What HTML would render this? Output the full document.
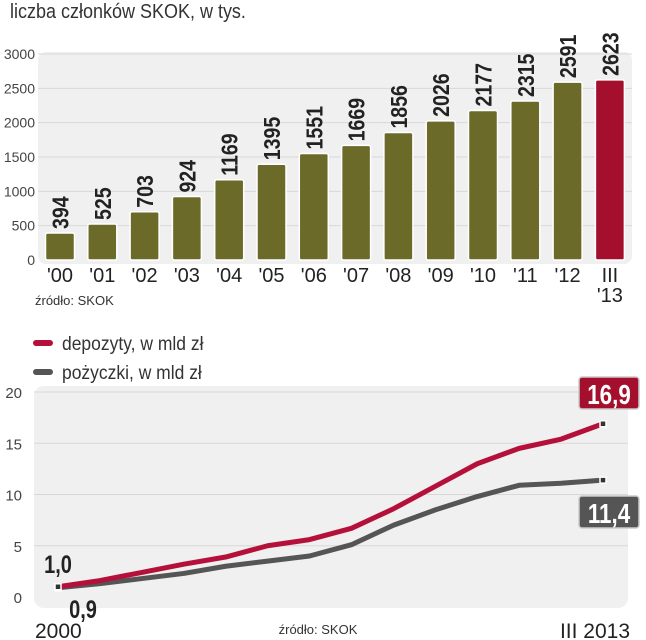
<!DOCTYPE html>
<html><head><meta charset="utf-8"><style>
body{margin:0;background:#fff;}
svg{display:block;font-family:"Liberation Sans",sans-serif;}
</style></head><body>
<svg id="c" width="646" height="640" viewBox="0 0 646 640" xmlns="http://www.w3.org/2000/svg">
<text x="10" y="18" font-size="20" fill="#333" transform="translate(10,0) scale(0.9,1) translate(-10,0)">liczba członków SKOK, w tys.</text>
<rect x="38" y="52" width="594" height="212" rx="8" fill="#f0f0f0"/>
<g id="barGrid"></g><g id="bars"></g>
<text x="35" y="305" font-size="13" fill="#333">źródło: SKOK</text>
<g>
<line x1="36" y1="343" x2="50" y2="343" stroke="#b5103a" stroke-width="6" stroke-linecap="round"/>
<text x="62" y="350" font-size="19" fill="#333" transform="translate(62,0) scale(0.92,1) translate(-62,0)">depozyty, w mld zł</text>
<line x1="36" y1="372" x2="50" y2="372" stroke="#555" stroke-width="6" stroke-linecap="round"/>
<text x="62" y="379" font-size="19" fill="#333" transform="translate(62,0) scale(0.92,1) translate(-62,0)">pożyczki, w mld zł</text>
</g>
<rect x="34" y="386" width="594" height="222" rx="10" fill="#f0f0f0"/>
<g id="lineGrid"></g><g id="lines"></g>
<text x="35" y="638" font-size="21" fill="#222">2000</text>
<text x="318" y="634" font-size="13" fill="#333" text-anchor="middle">źródło: SKOK</text>
<text x="630" y="638" font-size="21" fill="#222" text-anchor="end">III 2013</text>
</svg>
<script>
const barCats=["'00","'01","'02","'03","'04","'05","'06","'07","'08","'09","'10","'11","'12","III|'13"];
const barValues=[394,525,703,924,1169,1395,1551,1669,1856,2026,2177,2315,2591,2623];
const barTicks=[0,500,1000,1500,2000,2500,3000];
const depozyty=[1.0,1.6,2.4,3.2,3.9,5.0,5.6,6.7,8.6,10.8,13.0,14.5,15.4,16.9];
const pozyczki=[0.9,1.3,1.8,2.3,3.0,3.5,4.0,5.1,7.0,8.5,9.8,10.9,11.1,11.4];
const lineTicks=[0,5,10,15,20];
const NS="http://www.w3.org/2000/svg";
function mk(t,a,p){const e=document.createElementNS(NS,t);for(const k in a)e.setAttribute(k,a[k]);p.appendChild(e);return e;}
const by=v=>260-v*(206/3000);
const bx=i=>60+i*42.3;
const bg=document.getElementById('barGrid'),bb=document.getElementById('bars');
barTicks.forEach(t=>{
 if(t>0){const l=mk('line',{x1:38,x2:632,y1:by(t),y2:by(t),stroke:'#d8d8d8','stroke-width':1},bg);
 
 }
 const tx=mk('text',{x:35,y:by(t)+5,'font-size':14,fill:'#444','text-anchor':'end'},bg);
 
 
 tx.textContent=t;
});
barValues.forEach((v,i)=>{
 const last=i===barValues.length-1;
 const r=mk('rect',{x:bx(i)-14.5,y:by(v),width:29,height:by(0)-by(v),rx:2,fill:last?'#a30f2d':'#6b6a28',stroke:'#fff','stroke-width':1.5},bb);
 
 
 const t=mk('text',{x:0,y:0,'font-size':23,'font-weight':'bold',fill:'#222',transform:`translate(${bx(i)+8.5},${by(v)-4}) rotate(-90) scale(0.85,1)`},bb);
 
 
 t.textContent=v;
 const parts=barCats[i].split('|');
 parts.forEach((p,j)=>{
  const c=mk('text',{x:bx(i),y:282+j*20,'font-size':20,fill:'#222','text-anchor':'middle'},bb);
  
  
  c.textContent=p;
 });
});
const ly=v=>597-v*(205/20);
const lx=i=>58+i*(545/13);
const lg=document.getElementById('lineGrid'),ll=document.getElementById('lines');
lineTicks.forEach(t=>{
 if(t>0){const l=mk('line',{x1:34,x2:628,y1:ly(t),y2:ly(t),stroke:'#d8d8d8','stroke-width':1},lg);
 
 }
 const tx=mk('text',{x:22,y:ly(t)+6,'font-size':15,fill:'#444','text-anchor':'end'},lg);
 
 
 tx.textContent=t;
});
function series(arr,color,name){
 const p=mk('polyline',{points:arr.map((v,i)=>lx(i)+','+ly(v)).join(' '),fill:'none',stroke:color,'stroke-width':5,'stroke-linejoin':'round'},ll);
 
 
 [0,arr.length-1].forEach(i=>{
  const m=mk('rect',{x:lx(i)-3,y:ly(arr[i])-3,width:6,height:6,fill:'#333',stroke:'#fff','stroke-width':1.5},ll);
  
  
 });
}
series(pozyczki,'#555','pozyczki');
series(depozyty,'#b5103a','depozyty');
function box(x,y,txt,fill,name){
 const r=mk('rect',{x:x,y:y,width:60,height:32,rx:3,fill:fill,stroke:'#ccc','stroke-width':1.5},ll);
 
 
 const t=mk('text',{x:x+30,y:y+27,'font-size':28,'font-weight':'bold',fill:'#fff','text-anchor':'middle',transform:`translate(${x+30},0) scale(0.8,1) translate(${-(x+30)},0)`},ll);
 
 
 t.textContent=txt;
}
const f=v=>v.toFixed(1).replace('.',',');
box(579,377,f(depozyty[depozyty.length-1]),'#a30f2d','depozyty-end');
box(579,496,f(pozyczki[pozyczki.length-1]),'#555','pozyczki-end');
const s1=mk('text',{x:58,y:573,'font-size':25,'font-weight':'bold',fill:'#222','text-anchor':'middle',transform:'translate(58,0) scale(0.8,1) translate(-58,0)'},ll);


s1.textContent=f(depozyty[0]);
const s2=mk('text',{x:83,y:618,'font-size':25,'font-weight':'bold',fill:'#222','text-anchor':'middle',transform:'translate(83,0) scale(0.8,1) translate(-83,0)'},ll);


s2.textContent=f(pozyczki[0]);
</script>
</body></html>
